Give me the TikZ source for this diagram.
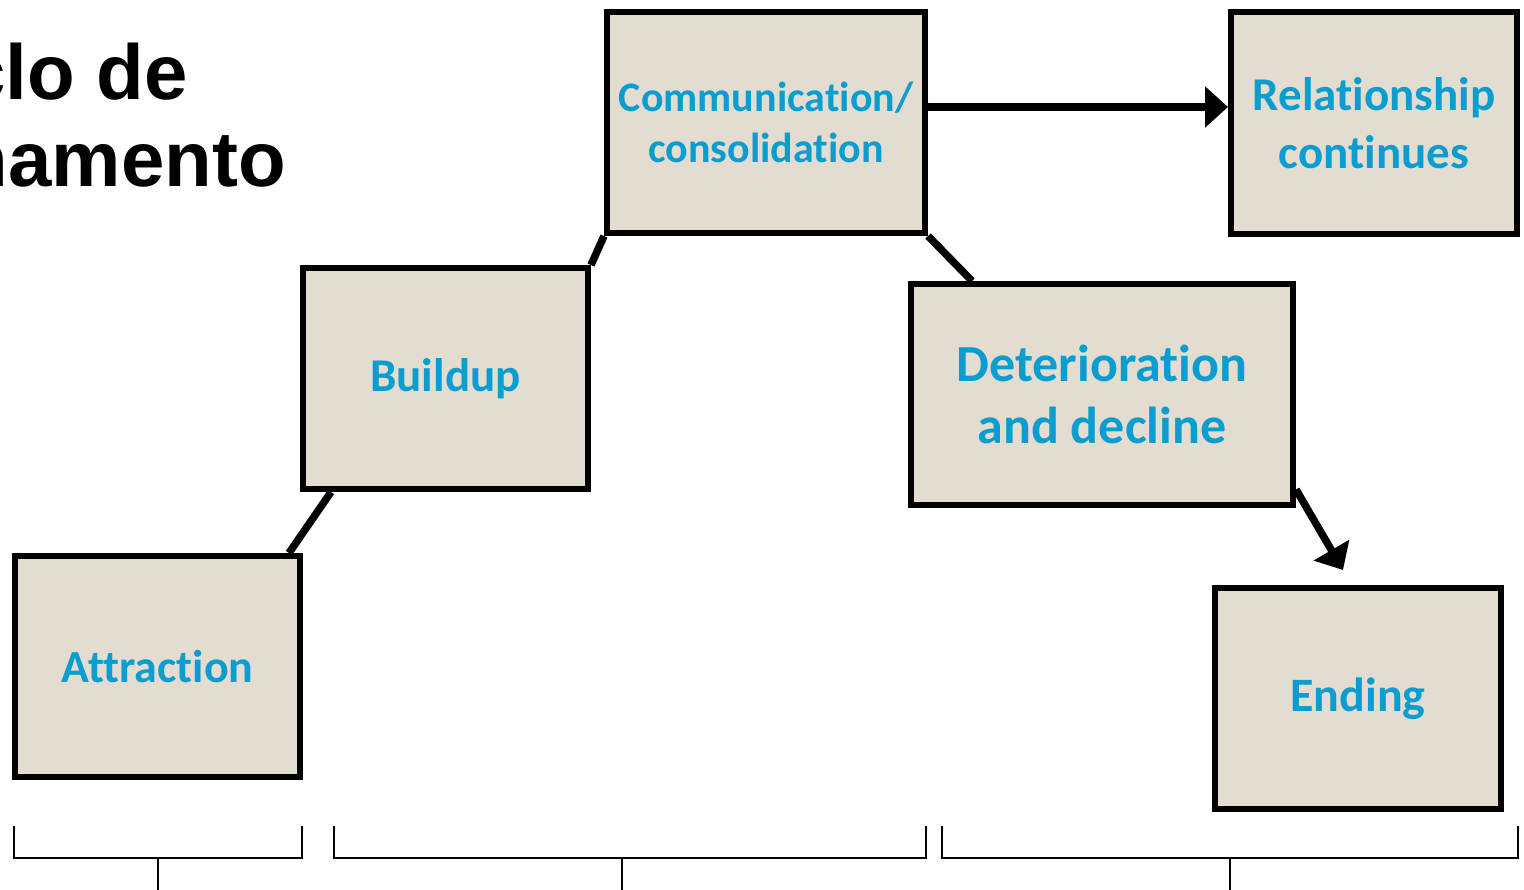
\documentclass[tikz,border=0pt]{standalone}
\usepackage{fontspec}
\newfontfamily\calfont{Carlito}[Ligatures=NoCommon]
\newfontfamily\arialfont{Liberation Sans}
\usetikzlibrary{arrows.meta,calc}
\definecolor{boxfill}{RGB}{227,220,208}
\definecolor{boxtext}{RGB}{10,157,208}
\tikzset{
  stage/.style={draw=black, line width=6pt, fill=boxfill, inner sep=0pt,
    text=boxtext, align=center, font=\calfont\bfseries},
  link/.style={draw=black, line width=7.5pt},
  bigarrow/.style={link, -{Triangle[length=23pt,width=40pt]}},
  brace/.style={draw=black, line width=2pt},
  title/.style={inner sep=0pt, font=\arialfont\bfseries\fontsize{78}{86}\selectfont}
}
\begin{document}
\begin{tikzpicture}[x=1pt,y=-1pt]
\useasboundingbox (0,0) rectangle (1524,890);
\clip (0,0) rectangle (1524,890);
% title (cropped at left)
\node[title, anchor=base east] (t1) at (188,100) {clo de};
\node[title, anchor=base east] (t2) at (286,187) {namento};
% stages
\node[stage, minimum width=285pt, minimum height=221pt, font=\calfont\bfseries\fontsize{46}{55}\selectfont] (att) at (157.5,666.5) {Attraction};
\node[stage, minimum width=285pt, minimum height=221pt, font=\calfont\bfseries\fontsize{47}{56}\selectfont] (bu) at (445.5,378.5) {\raisebox{-3pt}{Buildup}};
\node[stage, minimum width=318pt, minimum height=221pt, font=\calfont\bfseries\fontsize{42}{51}\selectfont] (comm) at (766,122.5) {Communication/\\consolidation};
\node[stage, minimum width=286pt, minimum height=222pt, font=\calfont\bfseries\fontsize{47}{58}\selectfont] (rel) at (1374,123) {Relationship\\continues};
\node[stage, minimum width=382pt, minimum height=221pt, font=\calfont\bfseries\fontsize{52}{62}\selectfont] (det) at (1102,394.5) {Deterioration\\and decline};
\node[stage, minimum width=286pt, minimum height=221pt, font=\calfont\bfseries\fontsize{48}{58}\selectfont] (end) at (1358,698.5) {Ending};
\coordinate (endtip) at ($(end.north west)+(131,-15)$);
% connectors
\draw[link] ($(att.north east)+(-14,0)$) -- ($(bu.south west)+(31,0)$);
\draw[link] (bu.north east) -- (comm.south west);
\draw[link] (comm.south east) -- ($(det.north west)+(64,0)$);
\draw[bigarrow] ($(comm.east)+(0,-15.5)$) -- ($(rel.west)+(0,-16)$);
\draw[bigarrow] ($(det.east)+(0,95)$) -- (endtip);
% brackets
\draw[brace] (14,826) -- (14,858) -- (302,858) -- (302,826);
\draw[brace] (158,858) -- (158,890);
\draw[brace] (334,826) -- (334,858) -- (926,858) -- (926,826);
\draw[brace] (622,858) -- (622,890);
\draw[brace] (942,826) -- (942,858) -- (1518,858) -- (1518,826);
\draw[brace] (1230,858) -- (1230,890);
\end{tikzpicture}
\end{document}
